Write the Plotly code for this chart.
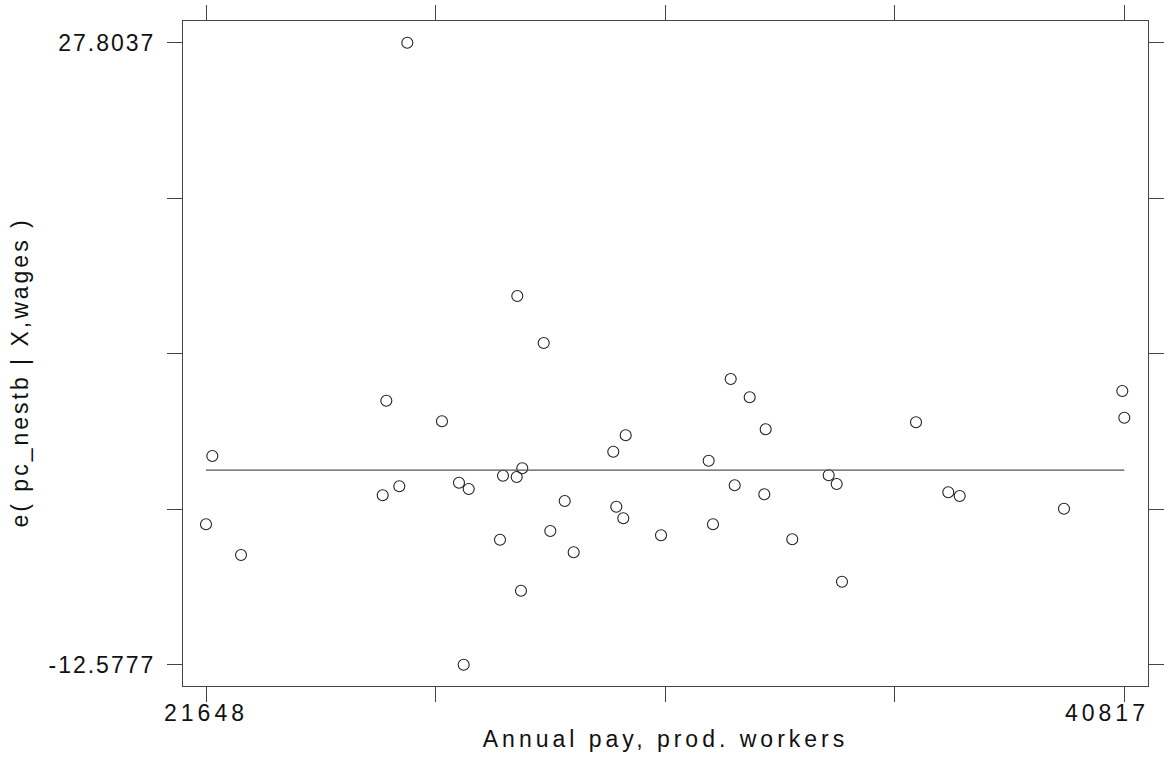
import numpy as np
import plotly.graph_objects as go

# Annual pay of production workers (x) and residual of pc_nestb (y)
annual_pay = [
    21648, 21780, 22379, 25850, 25336, 25412, 25683, 26574, 26929, 27132,
    27027, 27785, 27848, 28134, 28250, 28146, 28223, 28697, 28835, 29136,
    29323, 30150, 30213, 30359, 30409, 31146, 32141, 32231, 32601, 32684,
    32997, 33302, 33331, 33886, 34646, 34813, 34924, 36469, 37143, 37381,
    39558, 40775, 40817,
]
resid_nestb = [
    -3.462, 0.972, -5.456, 27.8037, -1.580, 4.562, -0.995, 3.225, -0.762, -1.171,
    -12.5777, -4.462, -0.307, -0.392, 0.173, 11.359, -7.773, 8.308, -3.898, -1.950,
    -5.281, 1.251, -2.320, -3.073, 2.316, -4.177, 0.667, -3.462, 5.971, -0.930,
    4.782, -1.515, 2.705, -4.436, -0.281, -0.846, -7.189, 3.160, -1.385, -1.625,
    -2.450, 5.192, 3.458,
]

x_min, x_max = 21648, 40817
y_min, y_max = -12.5777, 27.8037
# the last x label is drawn separately so it stays inside the frame
x_tick_labels = ["21648", "", "", "", ""]
x_end_label = "40817"
y_tick_labels = ["-12.5777", "", "", "", "27.8037"]

x_ticks = list(np.linspace(x_min, x_max, 5))
y_ticks = list(np.linspace(y_min, y_max, 5))

# flat fitted line at the mean residual
fit_level = float(np.mean(resid_nestb))

axis_color = "#444444"
text_color = "#111111"
font_family = "Liberation Sans, Arial, sans-serif"
label_font = dict(family=font_family, size=23, color=text_color)

fig = go.Figure()
fig.add_trace(go.Scatter(
    x=annual_pay, y=resid_nestb, mode="markers",
    marker=dict(symbol="circle-open", size=11, color="#222222",
                line=dict(width=1.1, color="#222222")),
    showlegend=False, hoverinfo="x+y",
))
fig.add_trace(go.Scatter(
    x=[x_min, x_max], y=[fit_level, fit_level], mode="lines",
    line=dict(color="#555555", width=1.3),
    showlegend=False, hoverinfo="skip",
))

x_pad_lo, x_pad_hi = 480.1, 494.7
y_pad_lo, y_pad_hi = 1.383, 1.409

common_axis = dict(
    showgrid=False, zeroline=False, showline=True, mirror="ticks",
    linecolor=axis_color, linewidth=1.2, automargin=False,
    ticks="outside", ticklen=15, tickwidth=1.2, tickcolor=axis_color,
    tickfont=label_font,
)

fig.update_layout(
    width=1168, height=762,
    margin=dict(l=183, r=20, t=21, b=76),
    paper_bgcolor="white", plot_bgcolor="white",
    xaxis=dict(
        range=[x_min - x_pad_lo, x_max + x_pad_hi],
        tickmode="array", tickvals=x_ticks, ticktext=x_tick_labels,
        ticklabelstandoff=-9,
        title=dict(text="Annual pay, prod. workers", standoff=6, font=label_font),
        **common_axis,
    ),
    yaxis=dict(
        range=[y_min - y_pad_lo, y_max + y_pad_hi],
        tickmode="array", tickvals=y_ticks, ticktext=y_tick_labels,
        ticklabelstandoff=7,
        **common_axis,
    ),
    annotations=[
        dict(
            text="e( pc_nestb | X,wages )", textangle=-90,
            xref="paper", yref="paper", x=(20 - 183) / 965, y=(686 - 373) / 665,
            xanchor="center", yanchor="middle", showarrow=False,
            font=label_font,
        ),
        dict(
            text=x_end_label, xref="x", yref="paper", x=x_max, y=0,
            xanchor="right", yanchor="top", xshift=17, yshift=-12,
            showarrow=False, font=label_font,
        ),
    ],
)

# widen the letter spacing of axis texts
spacing_js = """
var gd = document.getElementById('{plot_id}');
function spaceText() {
  gd.querySelectorAll('.xtick text, .g-xtitle text, .annotation-text')
    .forEach(function (el) { el.style.letterSpacing = '4px'; });
  gd.querySelectorAll('.annotation-text[data-unformatted^="e("]')
    .forEach(function (el) { el.style.letterSpacing = '3px'; });
  gd.querySelectorAll('.ytick text')
    .forEach(function (el) { el.style.letterSpacing = '2px'; });
}
spaceText();
gd.on('plotly_afterplot', spaceText);
"""

fig.write_html("out.html", post_script=spacing_js)
